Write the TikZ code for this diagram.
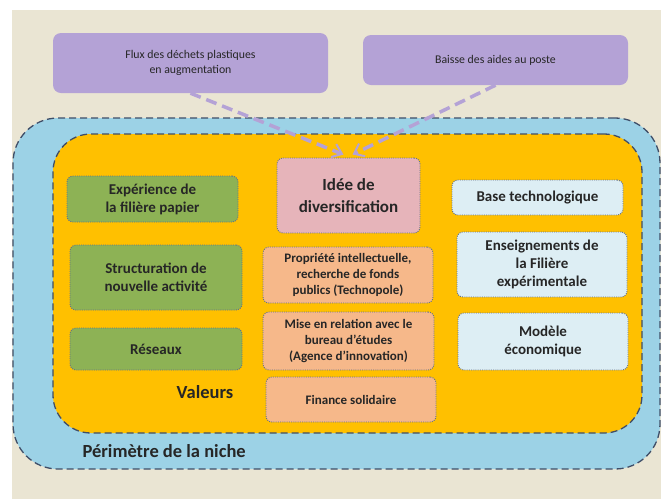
\documentclass[tikz,border=0pt]{standalone}
\usepackage{fontspec}
\setmainfont{Carlito}
\usepackage{tikz}
\usetikzlibrary{arrows.meta, positioning, calc}
\definecolor{paperbg}{HTML}{EAE5D3}
\definecolor{lavender}{HTML}{B4A2D6}
\definecolor{nichebl}{HTML}{9CD2E6}
\definecolor{gold}{HTML}{FFC000}
\definecolor{leafgreen}{HTML}{8DB255}
\definecolor{rosepink}{HTML}{E6B4BA}
\definecolor{peach}{HTML}{F6B88A}
\definecolor{icebl}{HTML}{DDEEF4}
\definecolor{slate}{HTML}{3F4E68}
\definecolor{inkdark}{HTML}{262626}

\begin{document}
\begin{tikzpicture}[x=1pt, y=-1pt, every node/.style={align=center, text=inkdark},
    ctx/.style={rectangle, rounded corners=8pt, fill=lavender, inner sep=0pt,
      font=\fontsize{11.8}{15}\selectfont},
    zone/.style={rectangle, draw=slate, line width=1.3pt, dash pattern=on 7pt off 4pt, inner sep=0pt},
    res/.style={rectangle, rounded corners=6pt, draw=slate!80, line width=0.9pt,
      dash pattern=on 1pt off 1.2pt, inner sep=0pt},
    grn/.style={res, fill=leafgreen, font=\bfseries\fontsize{15}{18}\selectfont},
    sup/.style={res, fill=peach, font=\bfseries\fontsize{13}{16}\selectfont},
    tech/.style={res, fill=icebl, font=\bfseries\fontsize{15}{18}\selectfont},
    lbl/.style={font=\bfseries\fontsize{18.5}{22}\selectfont},
    press/.style={-{Straight Barb[length=9pt, width=14pt, line width=2pt]}, draw=lavender,
      line width=3.5pt, dash pattern=on 11pt off 6pt}
  ]
    % ── Canvas
    \useasboundingbox (0,0) rectangle (661,499);
    \fill[paperbg] (12,10) rectangle (661,499);

    % ── External pressures
    \node[ctx, minimum width=275pt, minimum height=60pt] (flux) at (190.5,63)
      {Flux des déchets plastiques\\en augmentation};
    \node[ctx, minimum width=265pt, minimum height=50pt] (baisse) at (495.5,60)
      {Baisse des aides au poste};

    % ── Niche and values areas
    \node[zone, fill=nichebl, rounded corners=45pt, minimum width=647pt, minimum height=351pt]
      (niche) at (336.5,293.5) {};
    \node[zone, fill=gold, rounded corners=38pt, minimum width=589pt, minimum height=299pt]
      (valeurs) at (347.5,283.5) {};

    % ── Left column
    \node[grn, minimum width=171pt, minimum height=46pt] (exp) at (152.5,199)
      {Expérience de\\la filière papier};
    \node[grn, minimum width=172pt, minimum height=65pt] (struct) at (156,277.5)
      {Structuration de\\nouvelle activité};
    \node[grn, minimum width=172pt, minimum height=42pt] (reseaux) at (156,349)
      {Réseaux};

    % ── Middle column
    \node[res, fill=rosepink, minimum width=143pt, minimum height=75pt,
      font=\bfseries\fontsize{17}{22}\selectfont] (idee) at (348.5,195.5)
      {Idée de\\diversification};
    \node[sup, minimum width=170pt, minimum height=56pt] (propr) at (348,275)
      {Propriété intellectuelle,\\recherche de fonds\\publics (Technopole)};
    \node[sup, minimum width=171pt, minimum height=58pt] (mise) at (348.5,341)
      {Mise en relation avec le\\bureau d’études\\(Agence d’innovation)};
    \node[sup, minimum width=170pt, minimum height=45pt] (finance) at (351,399.5)
      {Finance solidaire};

    % ── Right column
    \node[tech, minimum width=171pt, minimum height=35pt] (base) at (537.5,197.5)
      {Base technologique};
    \node[tech, minimum width=170pt, minimum height=65pt] (ensg) at (542,264.5)
      {Enseignements de\\la Filière\\expérimentale};
    \node[tech, minimum width=170pt, minimum height=57pt] (modele) at (543,341.5)
      {Modèle\\économique};

    % ── Labels
    \node[lbl] (lvaleurs) at (205,392) {Valeurs};
    \node[lbl, anchor=west] (lniche) at (79,451) {Périmètre de la niche};

    % ── Arrows
    \coordinate (tipA) at ($(idee.north)+(-5,-3)$);
    \coordinate (tipB) at ($(idee.north)+(4,-3)$);
    \draw[press] (flux.south) -- (tipA);
    \draw[press] (baisse.south) -- (tipB);
  \end{tikzpicture}
\end{document}
